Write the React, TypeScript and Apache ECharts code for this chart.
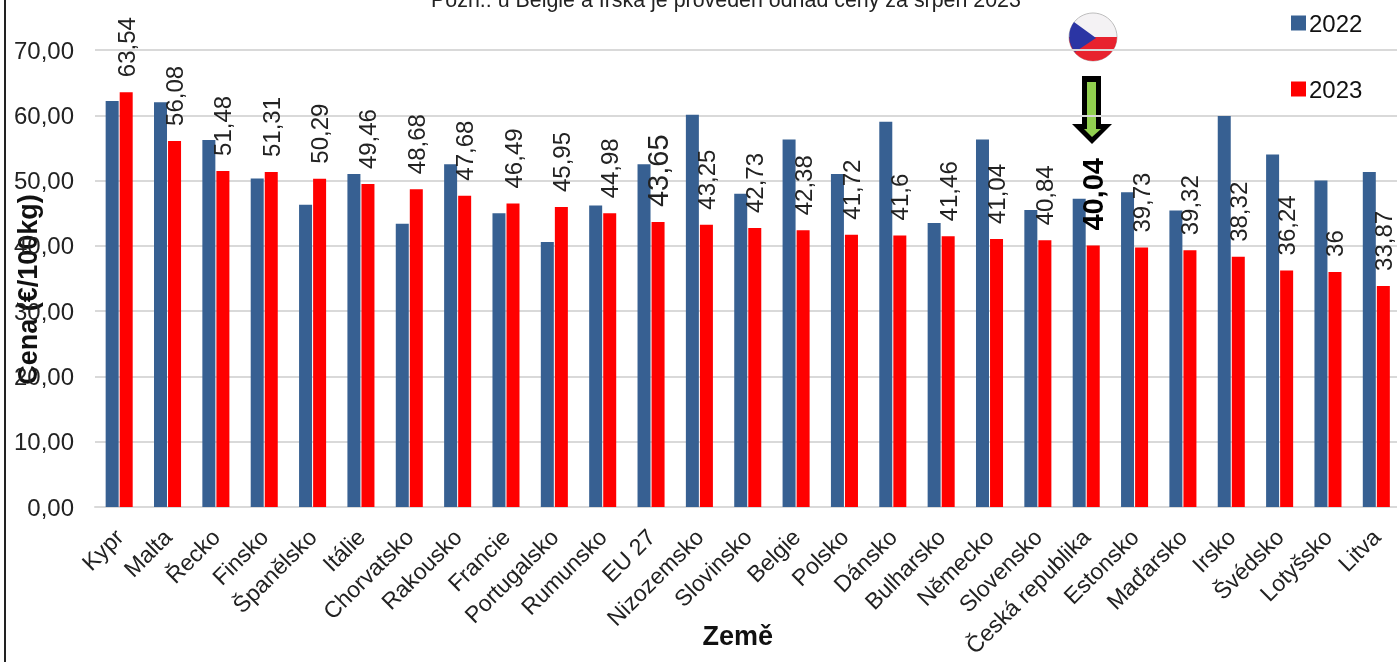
import React, { useEffect, useRef } from "react";
import * as echarts from "echarts";

const countries = ["Kypr","Malta","Řecko","Finsko","Španělsko","Itálie","Chorvatsko","Rakousko","Francie","Portugalsko","Rumunsko","EU 27","Nizozemsko","Slovinsko","Belgie","Polsko","Dánsko","Bulharsko","Německo","Slovensko","Česká republika","Estonsko","Maďarsko","Irsko","Švédsko","Lotyšsko","Litva"];
const values2022 = [62.2,62,56.2,50.3,46.3,51,43.4,52.5,45,40.6,46.2,52.5,60.1,48,56.3,51,59,43.5,56.3,45.5,47.2,48.2,45.4,59.9,54,50,51.3];
const values2023 = [63.54,56.08,51.48,51.31,50.29,49.46,48.68,47.68,46.49,45.95,44.98,43.65,43.25,42.73,42.38,41.72,41.6,41.46,41.04,40.84,40.04,39.73,39.32,38.32,36.24,36,33.87];
const noteText = "Pozn.: u Belgie a Irska je proveden odhad ceny za srpen 2023";
const FONT = "Liberation Sans";

const comma = (v: number) => String(v).replace(".", ",");

echarts.graphic.registerShape("czBlue", echarts.graphic.extendPath("M1074 22 L1096 38 L1075 52 A24 24 0 0 1 1074 22 Z", {}));

export default function App() {
  const ref = useRef<HTMLDivElement>(null);
  useEffect(() => {
    const chart = echarts.init(ref.current!, null, { renderer: "svg" });
    chart.setOption({
      animation: false,
      textStyle: { fontFamily: FONT },
      title: { text: noteText, left: 721, textAlign: "center", top: -16, textStyle: { fontFamily: FONT, fontSize: 21.4, fontWeight: "normal", color: "#222" } },
      legend: {
        orient: "vertical", left: 1286, top: 6, itemGap: 42, itemWidth: 15, itemHeight: 15,
        icon: "rect", textStyle: { fontFamily: FONT, fontSize: 24, color: "#111", padding: [0, 0, 0, -2] },
        data: ["2022", "2023"],
      },
      grid: { left: 95, top: 50, width: 1305.5, height: 457, outerBoundsMode: "none" },
      xAxis: {
        type: "category", data: countries,
        name: "Země", nameLocation: "middle", nameGap: 115, nameMoveOverlap: false,
        nameTextStyle: { fontFamily: FONT, fontSize: 27, fontWeight: "bold", color: "#111", padding: [0, 20, 0, 0] },
        axisLine: { lineStyle: { color: "#d9d9d9", width: 2 } }, axisTick: { show: false },
        axisLabel: { interval: 0, rotate: 45, fontFamily: FONT, fontSize: 23, color: "#222", margin: 26, hideOverlap: false },
      },
      yAxis: {
        type: "value", min: 0, max: 70, interval: 10,
        name: "Cena (€/100kg)", nameLocation: "middle", nameGap: 54, nameRotate: 90, nameMoveOverlap: false,
        nameTextStyle: { fontFamily: FONT, fontSize: 27, fontWeight: "bold", color: "#111", padding: [0, 22, 0, 0] },
        axisLine: { show: false }, axisTick: { show: false },
        splitLine: { lineStyle: { color: "#d9d9d9", width: 2 } },
        axisLabel: { fontFamily: FONT, fontSize: 24, color: "#222", margin: 21, formatter: (v: number) => v.toFixed(2).replace(".", ",") },
      },
      series: [
        { name: "2022", type: "bar", data: values2022, barWidth: 13, barGap: "8%", itemStyle: { color: "#376092" } },
        {
          name: "2023", type: "bar", barWidth: 13, itemStyle: { color: "#ff0000" },
          data: values2023.map((v, i) => {
            const name = countries[i];
            if (name === "Česká republika") return { value: v, label: { fontSize: 29, fontWeight: "bold", color: "#000" } };
            if (name === "EU 27") return { value: v, label: { fontSize: 29 } };
            return v;
          }),
          label: {
            show: true, position: "top", distance: 15, rotate: 90, align: "left", verticalAlign: "middle",
            fontFamily: FONT, fontSize: 24, color: "#222",
            formatter: (p: any) => comma(p.value),
          },
        },
      ],
      graphic: [
        { type: "line", shape: { x1: 5, y1: 0, x2: 5, y2: 662 }, style: { stroke: "#222", lineWidth: 2 } },
        { type: "circle", shape: { cx: 1093, cy: 37, r: 24 }, style: { fill: "#f4f2f4", stroke: "#bdbdbd", lineWidth: 1 } },
        { type: "sector", shape: { cx: 1093, cy: 37, r: 24, r0: 0, startAngle: 0, endAngle: Math.PI }, style: { fill: "#e8222e" } },
        { type: "czBlue", x: 0, y: 0, style: { fill: "#2b35a4" } },
        { type: "polygon", shape: { points: [[1082,76],[1101,76],[1101,124],[1112,124],[1092,144],[1072,124],[1082,124]] }, style: { fill: "#000" } },
        { type: "polygon", shape: { points: [[1087,82],[1096,82],[1096,129],[1101,129],[1092,137],[1084,129],[1087,129]] }, style: { fill: "#92d050" } },
      ],
    });
    return () => chart.dispose();
  }, []);
  return <div ref={ref} style={{ position: "fixed", left: 0, top: 0, width: 1397, height: 662 }} />;
}
